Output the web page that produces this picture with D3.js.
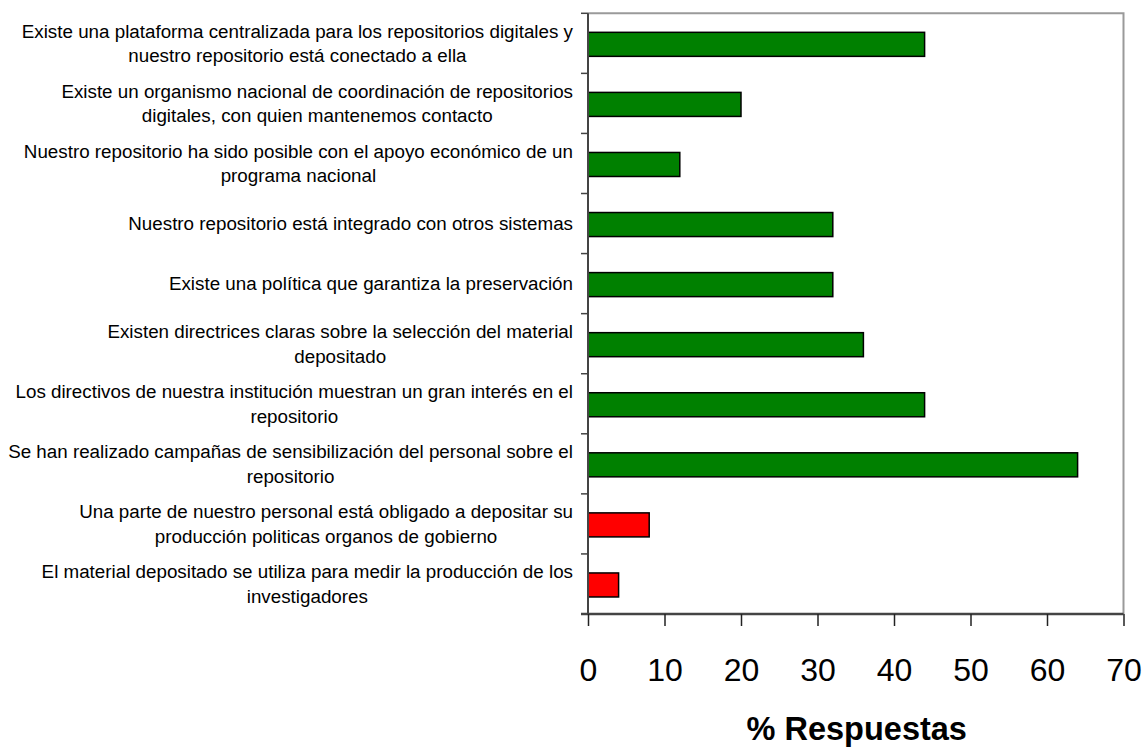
<!DOCTYPE html>
<html>
<head>
<meta charset="utf-8">
<script src="https://cdn.jsdelivr.net/npm/d3@7"></script>
<style>
  html, body { margin: 0; padding: 0; background: #fff; }
  svg { display: block; font-family: "Liberation Sans", Arial, sans-serif; }
</style>
</head>
<body>
<svg id="chart" width="1144" height="749"></svg>
<script>
// ---- data ----
const categories = [
  ["Existe una plataforma centralizada para los repositorios digitales y", "nuestro repositorio está conectado a ella"],
  ["Existe un organismo nacional de coordinación de repositorios", "digitales, con quien mantenemos contacto"],
  ["Nuestro repositorio ha sido posible con el apoyo económico de un", "programa nacional"],
  ["Nuestro repositorio está integrado con otros sistemas"],
  ["Existe una política que garantiza la preservación "],
  ["Existen directrices claras sobre la selección del material", "depositado"],
  ["Los directivos de nuestra institución muestran un gran interés en el", "repositorio"],
  ["Se han realizado campañas de sensibilización del personal sobre el", "repositorio"],
  ["Una parte de nuestro personal está obligado a depositar su", "producción politicas organos de gobierno"],
  ["El material depositado se utiliza para medir la producción de los", "investigadores"]
];
const values = [44, 20, 12, 32, 32, 36, 44, 64, 8, 4];
const barColors = ["#008000", "#008000", "#008000", "#008000", "#008000", "#008000", "#008000", "#008000", "#ff0000", "#ff0000"];
const xTicks = [0, 10, 20, 30, 40, 50, 60, 70];
const xTitle = "% Respuestas";

// ---- layout ----
const pLeft = 588, pRight = 1123.5, pTop = 13.3, pBottom = 614;
const svg = d3.select("#chart");

const x = d3.scaleLinear().domain([0, 70]).range([pLeft, pRight]);
const y = d3.scaleBand().domain(d3.range(categories.length)).range([pTop, pBottom]).paddingInner(0.6).paddingOuter(0.3);
const yb = d3.scaleBand().domain(d3.range(categories.length)).range([pTop, pBottom]);

// plot border (top/right gray)
svg.append("path")
  .attr("d", `M${pLeft},${pTop}H${pRight}V${pBottom}`)
  .attr("fill", "none").attr("stroke", "#9a9a9a").attr("stroke-width", 2);

// bars
svg.append("g").selectAll("rect").data(values).join("rect")
  .attr("x", x(0))
  .attr("y", (d, i) => y(i) + 1)
  .attr("width", d => x(d) - x(0))
  .attr("height", y.bandwidth())
  .attr("fill", (d, i) => barColors[i])
  .attr("stroke", "#000").attr("stroke-width", 1.5);

// y axis (category ticks at band boundaries)
const yAxisG = svg.append("g");
yAxisG.append("line").attr("x1", pLeft).attr("x2", pLeft).attr("y1", pTop).attr("y2", pBottom)
  .attr("stroke", "#444").attr("stroke-width", 2);
yAxisG.selectAll("line.tk").data(d3.range(categories.length + 1)).join("line")
  .attr("class", "tk")
  .attr("x1", pLeft - 7).attr("x2", pLeft)
  .attr("y1", i => i < categories.length ? yb(i) : pBottom)
  .attr("y2", i => i < categories.length ? yb(i) : pBottom)
  .attr("stroke", "#444").attr("stroke-width", 1.5);

// x axis
const xAxis = d3.axisBottom(x).tickValues(xTicks).tickSize(12).tickPadding(10).tickFormat(d3.format("d"));
const xg = svg.append("g").attr("transform", `translate(0,${pBottom})`).call(xAxis);
xg.select(".domain").attr("d", `M${pLeft - 7},0H${pRight}`).attr("stroke", "#444").attr("stroke-width", 2.5);
xg.selectAll(".tick line").attr("stroke", "#222").attr("stroke-width", 1.5);
xg.selectAll(".tick text")
  .attr("font-family", "'Liberation Sans', Arial, sans-serif")
  .attr("font-size", 32).attr("fill", "#000")
  .attr("y", null).attr("dy", null)
  .attr("transform", "translate(0,66.7)");

// x title
svg.append("text")
  .attr("x", (pLeft + pRight) / 2 + 1).attr("y", 740)
  .attr("text-anchor", "middle")
  .attr("font-size", 32.5).attr("font-weight", "bold").attr("fill", "#000")
  .text(xTitle);

// category labels
const labelRight = 573, fs = 18.8, lh = 24.5;
const lg = svg.append("g").attr("font-size", fs).attr("fill", "#000");
categories.forEach((lines, i) => {
  const cy = yb(i) + yb.bandwidth() / 2;
  const t = lg.append("text").attr("text-anchor", "middle");
  const n = lines.length;
  const spans = lines.map((s, k) => t.append("tspan")
    .attr("y", cy + (k - (n - 1) / 2) * lh + fs * 0.36)
    .text(s));
  const maxW = d3.max(spans, sp => sp.node().getComputedTextLength());
  spans.forEach(sp => sp.attr("x", labelRight - maxW / 2));
});
</script>
</body>
</html>
